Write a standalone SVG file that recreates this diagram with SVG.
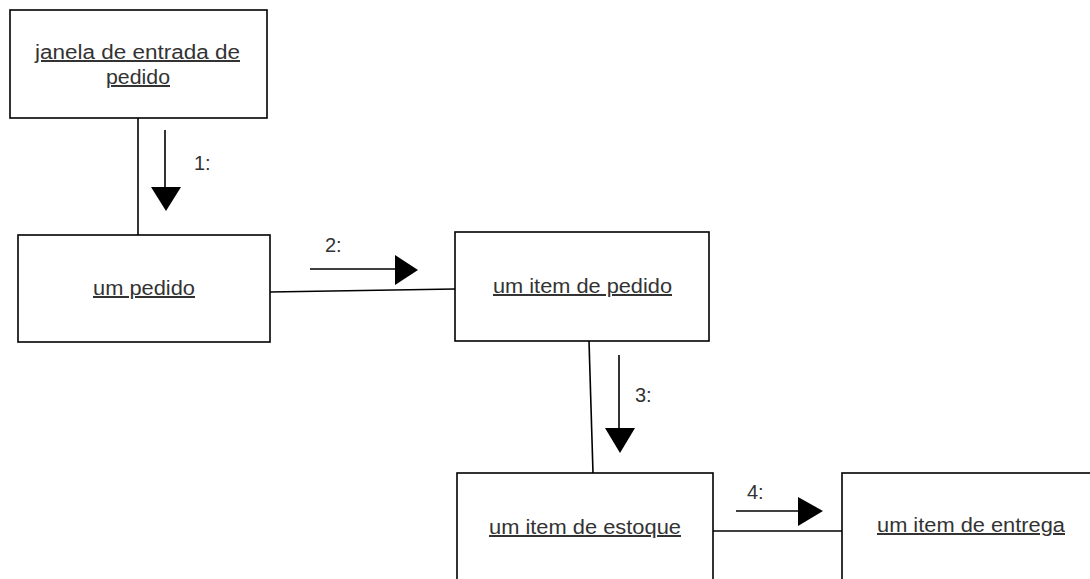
<svg xmlns="http://www.w3.org/2000/svg" width="1090" height="579" viewBox="0 0 1090 579">
<style>
.box{fill:#fff;stroke:#000;stroke-width:1.6}
.name{font-family:"Liberation Sans",Arial,sans-serif;font-size:20px;fill:#333;text-decoration:underline}
.lbl{font-family:"Liberation Sans",Arial,sans-serif;font-size:20px;fill:#333}
.conn{stroke:#000;stroke-width:1.6;fill:none}
.msg{stroke:#000;stroke-width:1.6;fill:none}
.head{fill:#000}
</style>
<rect width="1090" height="579" fill="#fff"/>
<g id="connectors">
<line class="conn" x1="138" y1="118" x2="138" y2="235"/>
<line class="conn" x1="270" y1="292" x2="455" y2="289"/>
<line class="conn" x1="589" y1="341" x2="593" y2="473"/>
<line class="conn" x1="713" y1="531" x2="842" y2="531"/>
</g>
<g id="messages">
<g id="msg1">
<line class="msg" x1="165" y1="130" x2="165" y2="189"/>
<polygon class="head" points="151,187 181,187 166,211"/>
<text class="lbl" x="194" y="170">1:</text>
</g>
<g id="msg2">
<line class="msg" x1="310" y1="269" x2="397" y2="269"/>
<polygon class="head" points="395,255 395,285 418,270"/>
<text class="lbl" x="325" y="252">2:</text>
</g>
<g id="msg3">
<line class="msg" x1="619" y1="355" x2="619" y2="430"/>
<polygon class="head" points="605,428 635,428 620,453"/>
<text class="lbl" x="635" y="402">3:</text>
</g>
<g id="msg4">
<line class="msg" x1="736" y1="511" x2="800" y2="511"/>
<polygon class="head" points="798,497 798,526 823,511"/>
<text class="lbl" x="747" y="499">4:</text>
</g>
</g>
<g id="node-janela">
<rect class="box" x="10" y="10" width="257" height="108"/>
<text class="name" x="35" y="59" textLength="205" lengthAdjust="spacingAndGlyphs">janela de entrada de </text>
<text class="name" x="106" y="84" textLength="64" lengthAdjust="spacingAndGlyphs">pedido</text>
</g>
<g id="node-um-pedido">
<rect class="box" x="18" y="235" width="252" height="107"/>
<text class="name" x="93" y="295" textLength="102" lengthAdjust="spacingAndGlyphs">um pedido</text>
</g>
<g id="node-item-pedido">
<rect class="box" x="455" y="232" width="254" height="109"/>
<text class="name" x="493" y="293" textLength="179" lengthAdjust="spacingAndGlyphs">um item de pedido</text>
</g>
<g id="node-item-estoque">
<rect class="box" x="457" y="473" width="256" height="130"/>
<text class="name" x="489" y="534" textLength="192" lengthAdjust="spacingAndGlyphs">um item de estoque</text>
</g>
<g id="node-item-entrega">
<rect class="box" x="842" y="473" width="260" height="130"/>
<text class="name" x="877" y="532" textLength="188" lengthAdjust="spacingAndGlyphs">um item de entrega</text>
</g>
</svg>
